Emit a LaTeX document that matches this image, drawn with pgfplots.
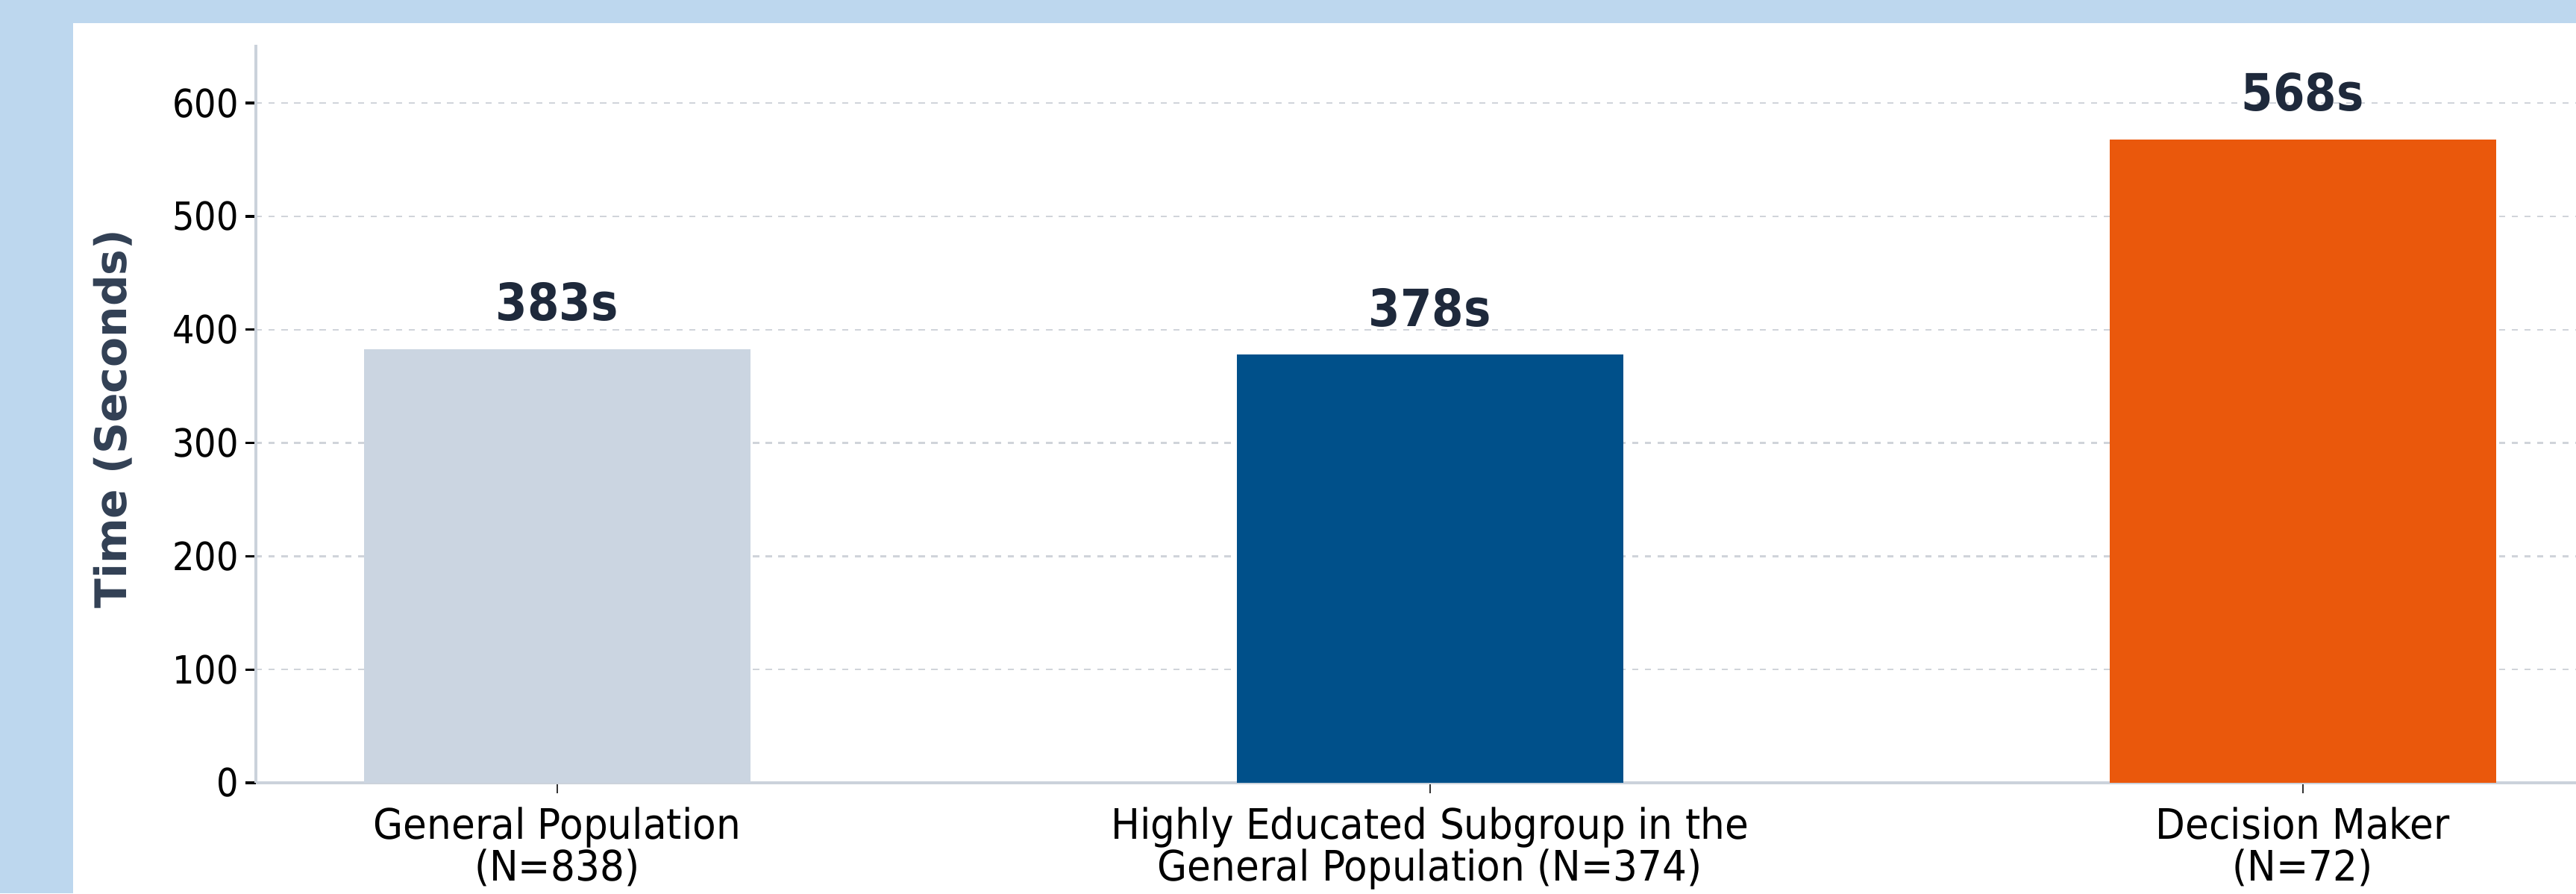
\documentclass[border=0pt]{standalone}
\usepackage{fontspec}
\setmainfont{DejaVu Sans}
\newfontfamily\cfont{DejaVu Sans}[FakeStretch=0.89]
\newfontfamily\xfont{DejaVu Sans}[FakeStretch=0.92]
\usepackage{pgfplots}
\pgfplotsset{compat=1.18}
\definecolor{bgblue}{HTML}{BDD7EE}
\definecolor{barA}{HTML}{CBD5E1}
\definecolor{barB}{HTML}{00508A}
\definecolor{barC}{HTML}{EA580C}
\definecolor{lab}{HTML}{1E293B}
\definecolor{ylab}{HTML}{334155}
\definecolor{axgray}{HTML}{CBD2DB}
\definecolor{gridc}{HTML}{D0D4DA}
\begin{document}
\begin{tikzpicture}[x=1pt,y=1pt]
\fill[bgblue] (0,0) rectangle (828.72,287.28);
\fill[white] (23.52,0) rectangle (828.72,279.84);
\begin{axis}[
  at={(82.32pt,35.52pt)}, anchor=south west,
  scale only axis, width=746.4pt, height=237.36pt,
  xmin=-0.345, xmax=2.313, ymin=0, ymax=651.5,
  ybar=0pt, bar width=0.443,
  axis x line*=bottom, axis y line*=left,
  axis line style={axgray, line width=0.9pt},
  xtick={0,1,2},
  xticklabels={{General Population\\(N=838)},{Highly Educated Subgroup in the\\General Population (N=374)},{Decision Maker\\(N=72)}},
  ytick={0,100,...,600},
  tick align=outside, major tick length=3.4pt,
  x tick style={black!80, line width=0.5pt},
  y tick style={black, line width=0.8pt},
  ymajorgrids, grid style={gridc, dash pattern=on 2pt off 2.1pt, line width=0.6pt},
  /pgf/number format/assume math mode=true,
  yticklabel style={font=\cfont\fontsize{12.5}{15}\selectfont, inner sep=0pt, anchor=east},
  yticklabel shift=2pt,
  xticklabel style={font=\xfont\fontsize{13.5}{13.6}\selectfont, align=center, inner sep=0pt, anchor=north},
  xticklabel shift=4.2pt,
  ylabel={Time (Seconds)},
  ylabel style={font=\bfseries\fontsize{14}{16}\selectfont, text=ylab, at={(axis description cs:-0.05563,0.4927)}, anchor=base, rotate=0},
  nodes near coords={\pgfmathprintnumber{\pgfplotspointmeta}s},
  every node near coord/.append style={font=\cfont\bfseries\fontsize{16.5}{18}\selectfont, text=lab, anchor=base, yshift=9.1pt, inner sep=0pt},
  clip=false,
]
\addplot[fill=barA, draw=none, bar shift=0pt] coordinates {(0,383)};
\addplot[fill=barB, draw=none, bar shift=0pt] coordinates {(1,378)};
\addplot[fill=barC, draw=none, bar shift=0pt] coordinates {(2,568)};
\end{axis}
\pgfresetboundingbox
\path (0,0) rectangle (828.72,287.28);
\end{tikzpicture}
\end{document}
